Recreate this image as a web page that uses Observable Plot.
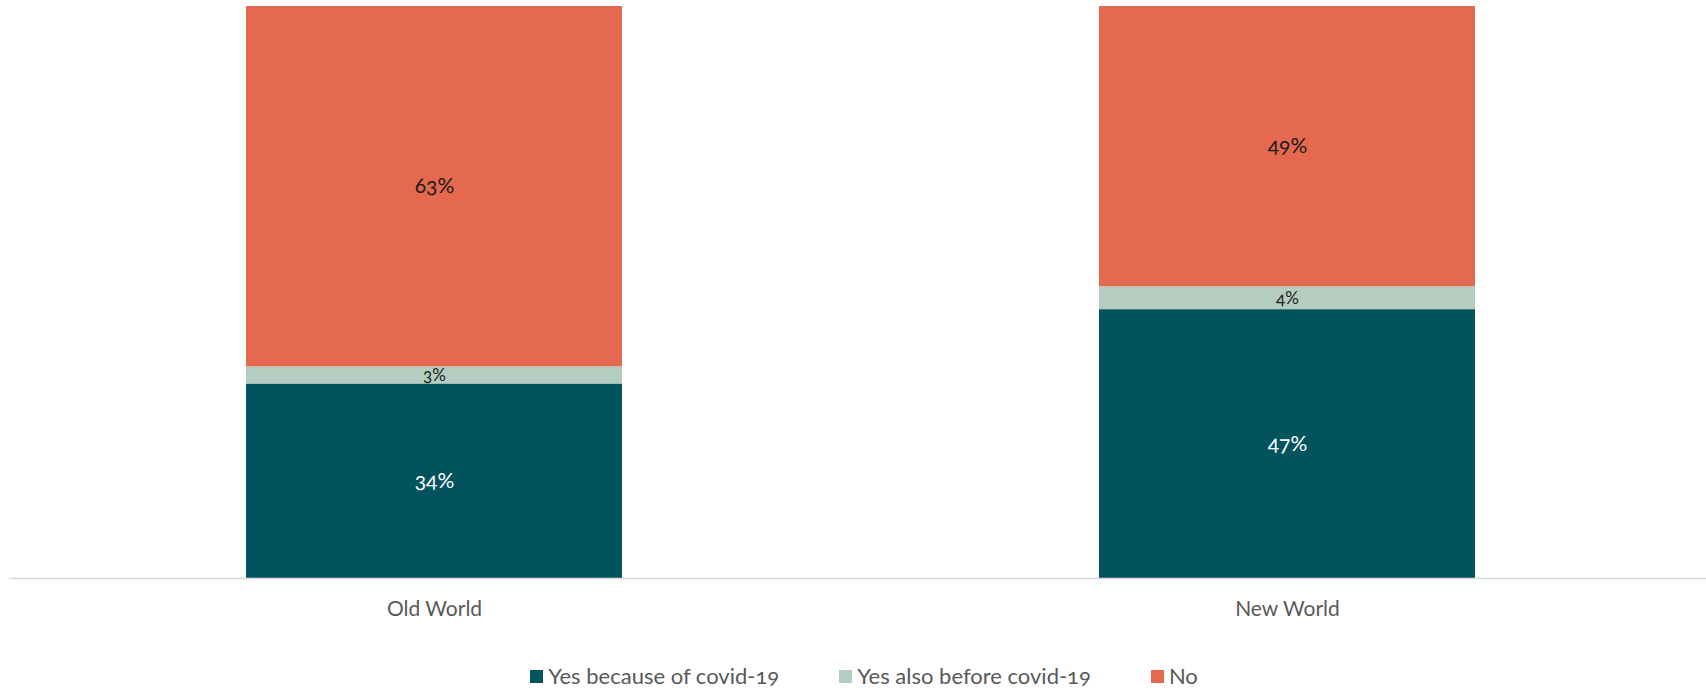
<!DOCTYPE html>
<html>
<head>
<meta charset="utf-8">
<script src="https://cdn.jsdelivr.net/npm/d3@7"></script>
<script src="https://cdn.jsdelivr.net/npm/@observablehq/plot@0.6"></script>
<style>
  body { margin: 0; background: #fff; font-family: Lato, "Open Sans", sans-serif; }
  #chart svg { display: block; }
  .legend { display: flex; justify-content: center; align-items: center; gap: 60px; margin-top: 14px; padding-left: 22px;
            font-family: Lato, sans-serif; font-size: 22px; line-height: 24px; color: #595959; font-variant-numeric: oldstyle-nums; }
  .legend .item { display: flex; align-items: center; gap: 5px; }
  .legend .sw { width: 13px; height: 13px; display: inline-block; }
</style>
</head>
<body>
<div id="chart"></div>
<div class="legend" id="legend"></div>
<script>
const categories = ["Old World", "New World"];
const seriesNames = ["Yes because of covid-19", "Yes also before covid-19", "No"];
const yesBecause = [34, 47];
const yesBefore = [3, 4];
const no = [63, 49];
const colors = ["#03535f", "#b5ccc0", "#e5694f"];
const labelColors = ["#ffffff", "#1a1a1a", "#1a1a1a"];

const seriesValues = [yesBecause, yesBefore, no];
const data = [];
categories.forEach((c, i) => {
  seriesNames.forEach((s, j) => {
    data.push({category: c, series: s, value: seriesValues[j][i], label: seriesValues[j][i] + "%"});
  });
});

const chart = Plot.plot({
  width: 1706,
  height: 650,
  marginTop: 6,
  marginBottom: 72,
  marginLeft: 16,
  marginRight: 0,
  style: {fontFamily: "Lato, sans-serif", fontVariantNumeric: "oldstyle-nums"},
  x: {domain: categories, paddingInner: 0.559, paddingOuter: 0.2696, label: null},
  y: {domain: [0, 100], axis: null},
  color: {domain: seriesNames, range: colors},
  marks: [
    Plot.barY(data, {x: "category", y: "value", fill: "series", z: "series", order: seriesNames}),
    Plot.ruleY([0], {stroke: "#d9d9d9", strokeWidth: 1.5, insetLeft: -7}),
    Plot.axisX({tickSize: 0, tickPadding: 23, fontSize: 21, fill: "#595959", color: "#595959", label: null}),
    Plot.text(data, Plot.stackY({
      x: "category", y: "value", z: "series", order: seriesNames, text: "label",
      fill: d => labelColors[seriesNames.indexOf(d.series)],
      fontSize: d => d.value < 10 ? 17 : 21
    }))
  ]
});
document.getElementById("chart").appendChild(chart);

const legend = document.getElementById("legend");
seriesNames.forEach((s, j) => {
  const item = document.createElement("div");
  item.className = "item";
  const sw = document.createElement("span");
  sw.className = "sw";
  sw.style.background = colors[j];
  const t = document.createElement("span");
  t.textContent = s;
  item.appendChild(sw);
  item.appendChild(t);
  legend.appendChild(item);
});
</script>
</body>
</html>
